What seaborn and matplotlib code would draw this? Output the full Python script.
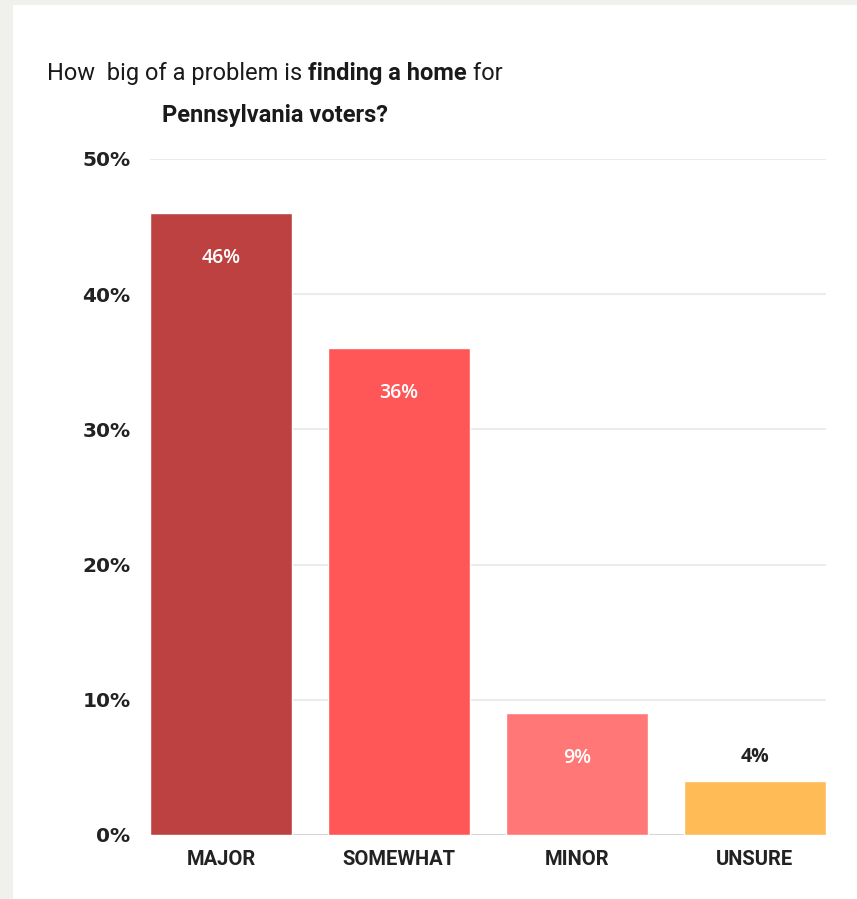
import matplotlib
matplotlib.use("Agg")
import matplotlib.pyplot as plt
import seaborn as sns
import pandas as pd

categories = ["MAJOR", "SOMEWHAT", "MINOR", "UNSURE"]
values = [46, 36, 9, 4]
bar_colors = ["#be4141", "#ff5757", "#ff7777", "#ffbb56"]
yticks = [0, 10, 20, 30, 40, 50]
ytick_labels = ["0%", "10%", "20%", "30%", "40%", "50%"]
value_labels = ["46%", "36%", "9%", "4%"]
title_line1 = [("How  big of a problem is ", "normal"), ("finding a home", "bold"), (" for", "normal")]
title_line2 = [("Pennsylvania voters?", "bold")]

sns.set_theme(style="white")
plt.rcParams["font.family"] = ["Roboto", "DejaVu Sans"]

W, H = 857, 899
fig = plt.figure(figsize=(W / 100, H / 100), dpi=100)
fig.patch.set_facecolor("#f0f1ec")
# white card
fig.add_artist(plt.Rectangle((13 / W, 0), 1, 1 - 5 / H, transform=fig.transFigure,
                             facecolor="white", edgecolor="none", zorder=0))

ax = fig.add_axes([150 / W, (H - 835) / H, (826 - 150) / W, (835 - 159) / H])
ax.set_facecolor("none")

df = pd.DataFrame({"cat": categories, "val": values})
sns.barplot(data=df, x="cat", y="val", hue="cat", palette=bar_colors, legend=False,
            width=0.8, saturation=1, ax=ax, zorder=3)

ax.set_xlim(-0.4, len(categories) - 0.6)
ax.set_ylim(0, 50)
ax.set_yticks(yticks)
ax.set_yticklabels(ytick_labels)
for t in ax.get_yticklabels():
    t.set_fontfamily(["DejaVu Sans"])
    t.set_fontweight("bold")
    t.set_fontsize(14.5)
    t.set_color("#222222")
for t in ax.get_xticklabels():
    t.set_fontweight("bold")
    t.set_fontsize(14.5)
    t.set_color("#222222")
ax.tick_params(axis="y", length=0, pad=14)
ax.tick_params(axis="x", length=0, pad=11)
ax.set_xlabel("")
ax.set_ylabel("")
for s in ax.spines.values():
    s.set_visible(False)
for yv in yticks[1:]:
    ax.axhline(yv, color="#ebebeb", lw=1.5, zorder=1)
ax.axhline(0, color="#d5d5d5", lw=1.5, zorder=2)

for i, (v, lab) in enumerate(zip(values, value_labels)):
    if v > 6:
        ax.text(i, v - 3.3, lab, ha="center", va="center", color="white",
                fontsize=14, fontweight="semibold", family=["Open Sans", "DejaVu Sans"], zorder=5)
    else:
        ax.text(i, v + 1.8, lab, ha="center", va="center", color="#222222",
                fontsize=14, fontweight="bold", family=["Open Sans", "DejaVu Sans"], zorder=5)

renderer = fig.canvas.get_renderer()


def mixed_line(pieces, cx_px, base_px, size):
    texts = []
    widths = []
    for s, w in pieces:
        t = fig.text(0, 0, s, fontsize=size, fontweight=w, color="#1a1a1a",
                     va="baseline", ha="left", transform=None)
        bb = t.get_window_extent(renderer)
        texts.append(t)
        widths.append(bb.width)
    total = sum(widths)
    x = cx_px - total / 2
    for t, wd in zip(texts, widths):
        t.set_position((x, H - base_px))
        x += wd


mixed_line(title_line1, 275, 80, 17)
mixed_line(title_line2, 275, 122, 17)

fig.savefig("out.png", dpi=100)
